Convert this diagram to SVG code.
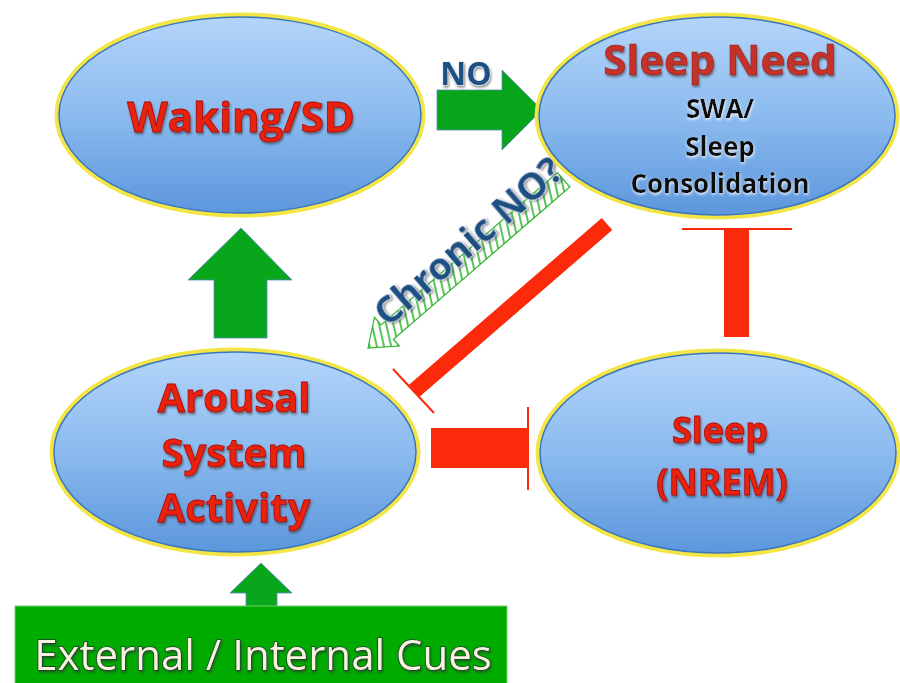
<svg xmlns="http://www.w3.org/2000/svg" width="900" height="683" viewBox="0 0 900 683">
<defs>
  <linearGradient id="blueGrad" x1="0" y1="0" x2="0" y2="1">
    <stop offset="0" stop-color="#b4d5fa"/>
    <stop offset="0.5" stop-color="#8bbbef"/>
    <stop offset="1" stop-color="#5c96dc"/>
  </linearGradient>
  <pattern id="hatch" width="7" height="7" patternUnits="userSpaceOnUse" patternTransform="rotate(28)">
    <rect width="7" height="7" fill="#ffffff"/>
    <line x1="2" y1="0" x2="2" y2="7" stroke="#2fb52f" stroke-width="1.6"/>
  </pattern>
  <filter id="shadow" x="-10%" y="-20%" width="120%" height="150%">
    <feDropShadow dx="1" dy="2" stdDeviation="1.2" flood-color="#333" flood-opacity="0.55"/>
  </filter>
  <filter id="glow" x="-10%" y="-20%" width="120%" height="150%">
    <feDropShadow dx="0.5" dy="1.5" stdDeviation="1.5" flood-color="#ffffff" flood-opacity="0.9"/>
  </filter>
</defs>
<style>
  .halo { fill: none; stroke: #f3e545; stroke-width: 5; }
  .node { fill: url(#blueGrad); stroke: #3a76c0; stroke-width: 1.5; }
  .red { font-family: "Open Sans", "Liberation Sans", sans-serif; font-weight: bold; fill: #e8200f; stroke: #a80c08; stroke-width: 0.8; text-anchor: middle; filter: url(#shadow); }
  .need { font-family: "Open Sans", "Liberation Sans", sans-serif; font-weight: bold; fill: #c4322a; stroke: #8e1a14; stroke-width: 0.5; text-anchor: middle; filter: url(#shadow); }
  .blk { font-family: "Open Sans", "Liberation Sans", sans-serif; font-weight: bold; fill: #111; text-anchor: middle; filter: url(#glow); }
  .navy { font-family: "Open Sans", "Liberation Sans", sans-serif; font-weight: bold; fill: #1f4f82; stroke: #e8f0fa; stroke-width: 1.2; paint-order: stroke; filter: url(#shadow); }
  .garrow { fill: #08a61a; stroke: #5b86c4; stroke-width: 0.8; }
  .rbar { fill: #fa2a0a; }
  .rline { stroke: #fa2a0a; stroke-width: 2; fill: none; }
  .cue { font-family: "Open Sans", "Liberation Sans", sans-serif; font-weight: normal; fill: #f7f3de; stroke: #1f3f2f; stroke-width: 1.6; paint-order: stroke; text-anchor: middle; filter: url(#shadow); }
</style>

<rect width="900" height="683" fill="#ffffff"/>

<g id="connectors">
  <!-- NO arrow: Waking to Sleep Need -->
  <path class="garrow" d="M437,90 L502,90 L502,70 L542,110 L502,150 L502,130 L437,130 Z"/>
  <text class="navy" x="466" y="85" font-size="32" text-anchor="middle">NO</text>
  <!-- Arousal to Waking -->
  <path class="garrow" d="M241,228 L292,280 L267,280 L267,338 L214,338 L214,280 L188,280 Z"/>
  <!-- Cues to Arousal -->
  <path class="garrow" d="M261,563 L292,593 L277,593 L277,607 L246,607 L246,593 L230,593 Z"/>
  <!-- Arousal inhibits Sleep -->
  <rect class="rbar" x="431" y="428" width="97" height="40"/>
  <line class="rline" x1="528" y1="407" x2="528" y2="490"/>
  <!-- Sleep inhibits Sleep Need -->
  <rect class="rbar" x="724" y="229" width="25" height="108"/>
  <line class="rline" x1="682" y1="229" x2="792" y2="229"/>
  <!-- Sleep Need inhibits Arousal (diagonal) -->
  <line x1="607" y1="224" x2="414" y2="391" stroke="#fa2a0a" stroke-width="16"/>
  <line class="rline" x1="393" y1="369" x2="434" y2="413"/>
  <!-- Chronic NO? hatched arrow -->
  <g transform="translate(368,348) rotate(-40.8)">
    <path d="M0,0 L25,-19 L25,-9 L258,-9 L258,10 L25,10 L25,19 Z" fill="url(#hatch)" stroke="#2fb52f" stroke-width="1.2"/>
    <text class="navy" x="28" y="-2" font-size="38">Chronic NO?</text>
  </g>
</g>

<g id="waking">
  <ellipse class="halo" cx="240" cy="115" rx="183" ry="100"/>
  <ellipse class="node" cx="240" cy="115" rx="181" ry="98"/>
  <text class="red" x="241" y="132" font-size="42">Waking/SD</text>
</g>

<g id="sleep-need">
  <ellipse class="halo" cx="717" cy="116" rx="180" ry="101"/>
  <ellipse class="node" cx="717" cy="116" rx="178" ry="99"/>
  <text class="need" x="720" y="75" font-size="42">Sleep Need</text>
  <text class="blk" x="720" y="118" font-size="26">SWA/</text>
  <text class="blk" x="720" y="156" font-size="26">Sleep</text>
  <text class="blk" x="720" y="193" font-size="26">Consolidation</text>
</g>

<g id="arousal">
  <ellipse class="halo" cx="235" cy="452" rx="183" ry="102"/>
  <ellipse class="node" cx="235" cy="452" rx="181" ry="100"/>
  <text class="red" x="234" y="412" font-size="40">Arousal</text>
  <text class="red" x="234" y="467" font-size="40">System</text>
  <text class="red" x="234" y="522" font-size="40">Activity</text>
</g>

<g id="sleep">
  <ellipse class="halo" cx="718" cy="453" rx="180" ry="102"/>
  <ellipse class="node" cx="718" cy="453" rx="178" ry="100"/>
  <text class="red" x="720" y="443" font-size="36">Sleep</text>
  <text class="red" x="722" y="495" font-size="36">(NREM)</text>
</g>

<g id="cues">
  <rect x="15" y="606" width="492" height="90" fill="#00ab00" stroke="#6fd06f" stroke-width="1"/>
  <text class="cue" x="263" y="670" font-size="42">External / Internal Cues</text>
</g>
</svg>
